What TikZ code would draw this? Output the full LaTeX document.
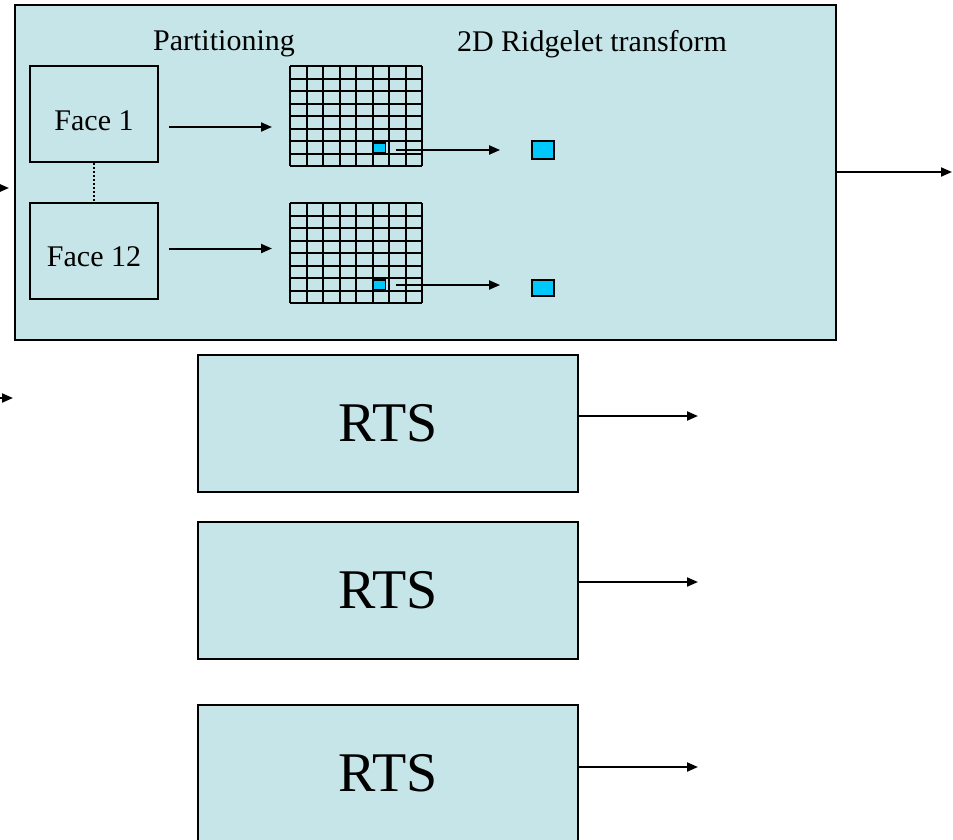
\documentclass[tikz,border=0pt]{standalone}
\usepackage{fontspec}
\setmainfont{Liberation Serif}
\usetikzlibrary{arrows.meta}
\definecolor{paleblue}{RGB}{197,229,232}
\definecolor{cellblue}{RGB}{0,200,250}

\begin{document}
\begin{tikzpicture}[x=1pt,y=-1pt,line width=2pt,
	block_node/.style={draw,fill=paleblue,inner sep=0pt},
	face_node/.style={block_node,minimum width=128pt,minimum height=96pt,text height=33pt,font=\fontsize{30}{36}\selectfont},
	rts_node/.style={block_node,minimum width=380pt,minimum height=137pt,font=\fontsize{56}{64}\selectfont},
	cell_node/.style={draw,fill=cellblue,inner sep=0pt,line width=1.8pt},
	title_node/.style={font=\fontsize{30}{36}\selectfont},
	arr/.style={-{Triangle[length=11pt,width=9pt]}}]
	\useasboundingbox (0,0) rectangle (953,839);
	\clip (0,0) rectangle (953,839);
	\node[block_node,minimum width=821pt,minimum height=335pt] (main) at (425.5,172.5) {};
	\node[title_node] (part) at (224,44) {Partitioning};
	\node[title_node] (ridge) at (592,44) {2D Ridgelet transform};
	\node[face_node] (face1) at (94,114) {Face 1};
	\node[face_node] (face12) at (94,250.5) {Face 12};
	\draw[dotted] (face1.south) -- (face12.north);
	% the two partition grids
	\foreach \gy/\n in {66/1,203/2} {
		\node[inner sep=0pt,minimum width=132pt,minimum height=100pt] (grid\n) at (356,\gy+50) {};
		\node[cell_node,minimum width=13pt,minimum height=10pt] (cell\n) at (379,\gy+82) {};
		\foreach \i in {0,...,8} {
			\draw (290+\i*16.5,\gy) -- (290+\i*16.5,\gy+100);
			\draw (290,\gy+\i*12.5) -- (422,\gy+\i*12.5);
		}
	}
	\node[cell_node,minimum width=22pt,minimum height=18pt] (sq1) at (543,150) {};
	\node[cell_node,minimum width=22pt,minimum height=16pt] (sq2) at (543,288) {};
	\draw[arr,shorten <=10pt,shorten >=17pt] ([yshift=-13pt]face1.east) -- ([yshift=-13pt]face1.east -| grid1.west);
	\draw[arr,shorten <=10pt,shorten >=17pt] ([yshift=2pt]face12.east) -- ([yshift=2pt]face12.east -| grid2.west);
	\draw[arr,shorten <=10pt,shorten >=31pt] ([yshift=-2pt]cell1.east) -- ([yshift=-2pt]cell1.east -| sq1.west);
	\draw[arr,shorten <=10pt,shorten >=31pt] (cell2.east) -- (cell2.east -| sq2.west);
	\coordinate (out0) at (952,172);
	\draw[arr] (main.east |- out0) -- (out0);
	\coordinate (in1s) at (-20,188);
	\coordinate (in1) at (9,188);
	\coordinate (in2s) at (-20,398);
	\coordinate (in2) at (13,398);
	\draw[arr] (in1s) -- (in1);
	\draw[arr] (in2s) -- (in2);
	% RTS blocks
	\node[rts_node] (rts1) at (388,423.5) {RTS};
	\node[rts_node] (rts2) at (388,590) {RTS};
	\node[rts_node] (rts3) at (388,773) {RTS};
	\coordinate (out1) at (698,416);
	\coordinate (out2) at (698,582);
	\coordinate (out3) at (698,767);
	\draw[arr] (rts1.east |- out1) -- (out1);
	\draw[arr] (rts2.east |- out2) -- (out2);
	\draw[arr] (rts3.east |- out3) -- (out3);
\end{tikzpicture}
\end{document}
